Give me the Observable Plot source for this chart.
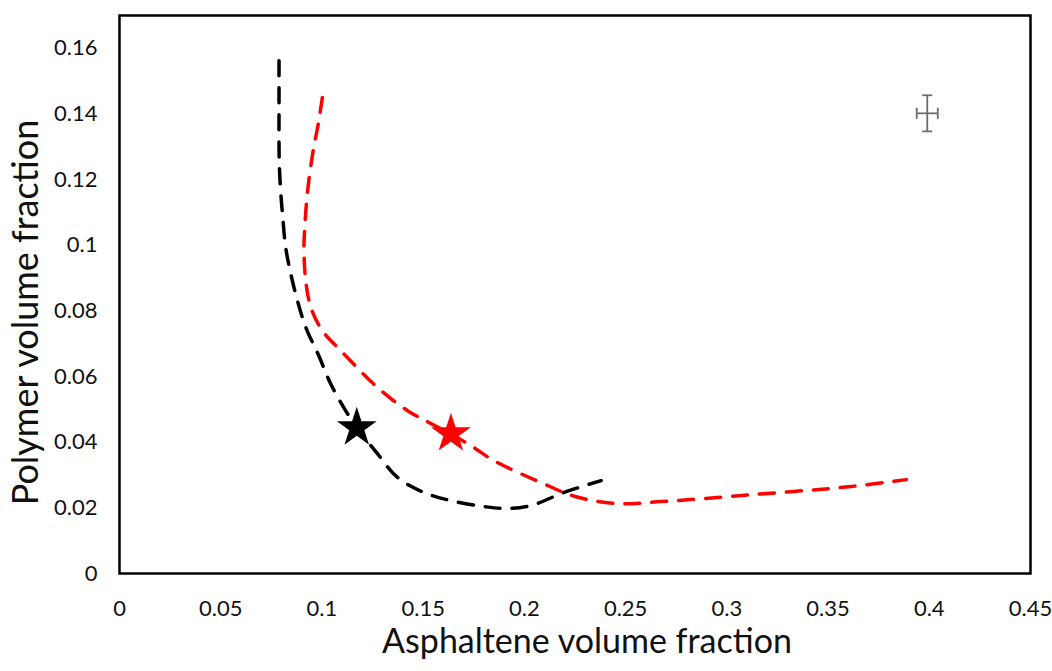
<!DOCTYPE html>
<html>
<head>
<meta charset="utf-8">
<script src="https://cdn.jsdelivr.net/npm/d3@7"></script>
<script src="https://cdn.jsdelivr.net/npm/@observablehq/plot@0.6"></script>
<style>
  html, body { margin: 0; padding: 0; background: #fff; }
</style>
</head>
<body>
<div id="chart"></div>
<script>
// Black dashed curve
const blackX = [0.0788, 0.0788, 0.0789, 0.0796, 0.0805, 0.0821, 0.0846, 0.0879, 0.0920, 0.0984, 0.1043, 0.1126, 0.1172, 0.1274, 0.1373, 0.1503, 0.1637, 0.1800, 0.1909, 0.2032, 0.2196, 0.2379];
const blackY = [0.1562, 0.1440, 0.1257, 0.1166, 0.1096, 0.0993, 0.0913, 0.0831, 0.0750, 0.0664, 0.0578, 0.0487, 0.0444, 0.0365, 0.0293, 0.0247, 0.0222, 0.0204, 0.0198, 0.0207, 0.0247, 0.0283];
// Red dashed curve
const redX = [0.1002, 0.0982, 0.0960, 0.0940, 0.0925, 0.0915, 0.0911, 0.0920, 0.0945, 0.1002, 0.1093, 0.1274, 0.1423, 0.1538, 0.1719, 0.1849, 0.2082, 0.2255, 0.2453, 0.2675, 0.3120, 0.3615, 0.3887];
const redY = [0.1450, 0.1370, 0.1300, 0.1220, 0.1140, 0.1050, 0.0993, 0.0892, 0.0811, 0.0740, 0.0679, 0.0567, 0.0496, 0.0457, 0.0396, 0.0344, 0.0277, 0.0234, 0.0213, 0.0219, 0.0240, 0.0265, 0.0286];
// Star markers
const blackStar = [{x: 0.1172, y: 0.0444}];
const redStar = [{x: 0.1637, y: 0.0426}];
// Representative error bar
const errX = 0.399, errY = 0.1402, errXHalf = 0.0052, errYHalf = 0.0055;
const capX = 0.0025, capY = 0.0017;
// Ticks
const xTicks = [0, 0.05, 0.1, 0.15, 0.2, 0.25, 0.3, 0.35, 0.4, 0.45];
const yTicks = [0, 0.02, 0.04, 0.06, 0.08, 0.1, 0.12, 0.14, 0.16];
const xLabel = "Asphaltene volume fraction";
const yLabel = "Polymer volume fraction";

const black = blackX.map((x, i) => ({x, y: blackY[i]}));
const red = redX.map((x, i) => ({x, y: redY[i]}));
const err = [{x: errX, y: errY}];
const fmt = d => String(+d.toFixed(2));

const chart = Plot.plot({
  width: 1052,
  height: 671,
  marginLeft: 119,
  marginRight: 22,
  marginTop: 15,
  marginBottom: 98,
  style: {fontFamily: "Lato, 'Open Sans', sans-serif", fontSize: "22px", color: "#111", background: "#fff"},
  x: {domain: [0, 0.45], ticks: xTicks, tickFormat: fmt, tickSize: 0, tickPadding: 27, label: null},
  y: {domain: [0, 0.17], ticks: yTicks, tickFormat: fmt, tickSize: 0, tickPadding: 22, label: null},
  marks: [
    Plot.line(black, {x: "x", y: "y", stroke: "#000", strokeWidth: 3.5, strokeDasharray: "15,12", curve: "catmull-rom"}),
    Plot.line(red, {x: "x", y: "y", stroke: "#ff0000", strokeWidth: 3.5, strokeDasharray: "15,12", curve: "catmull-rom"}),
    Plot.dot(blackStar, {x: "x", y: "y", symbol: "star", r: 12.5, fill: "#000", stroke: "none"}),
    Plot.dot(redStar, {x: "x", y: "y", symbol: "star", r: 12.5, fill: "#ff0000", stroke: "none"}),
    // error bar
    Plot.link(err, {x1: d => d.x, x2: d => d.x, y1: d => d.y - errYHalf, y2: d => d.y + errYHalf, stroke: "#6e6e6e", strokeWidth: 1.8}),
    Plot.link(err, {x1: d => d.x - errXHalf, x2: d => d.x + errXHalf, y1: d => d.y, y2: d => d.y, stroke: "#6e6e6e", strokeWidth: 1.8}),
    Plot.link(err, {x1: d => d.x - capX, x2: d => d.x + capX, y1: d => d.y + errYHalf, y2: d => d.y + errYHalf, stroke: "#6e6e6e", strokeWidth: 1.8}),
    Plot.link(err, {x1: d => d.x - capX, x2: d => d.x + capX, y1: d => d.y - errYHalf, y2: d => d.y - errYHalf, stroke: "#6e6e6e", strokeWidth: 1.8}),
    Plot.link(err, {x1: d => d.x - errXHalf, x2: d => d.x - errXHalf, y1: d => d.y - capY, y2: d => d.y + capY, stroke: "#6e6e6e", strokeWidth: 1.8}),
    Plot.link(err, {x1: d => d.x + errXHalf, x2: d => d.x + errXHalf, y1: d => d.y - capY, y2: d => d.y + capY, stroke: "#6e6e6e", strokeWidth: 1.8}),
    Plot.frame({stroke: "#000", strokeWidth: 2.5}),
    Plot.text([yLabel], {frameAnchor: "left", rotate: -90, textAnchor: "middle", dx: -93, dy: 18, fontSize: 36, fill: "#111"}),
    Plot.text([xLabel], {frameAnchor: "bottom", textAnchor: "middle", dx: 12, dy: 79, fontSize: 34, fill: "#111"})
  ]
});
document.getElementById("chart").appendChild(chart);
</script>
</body>
</html>
